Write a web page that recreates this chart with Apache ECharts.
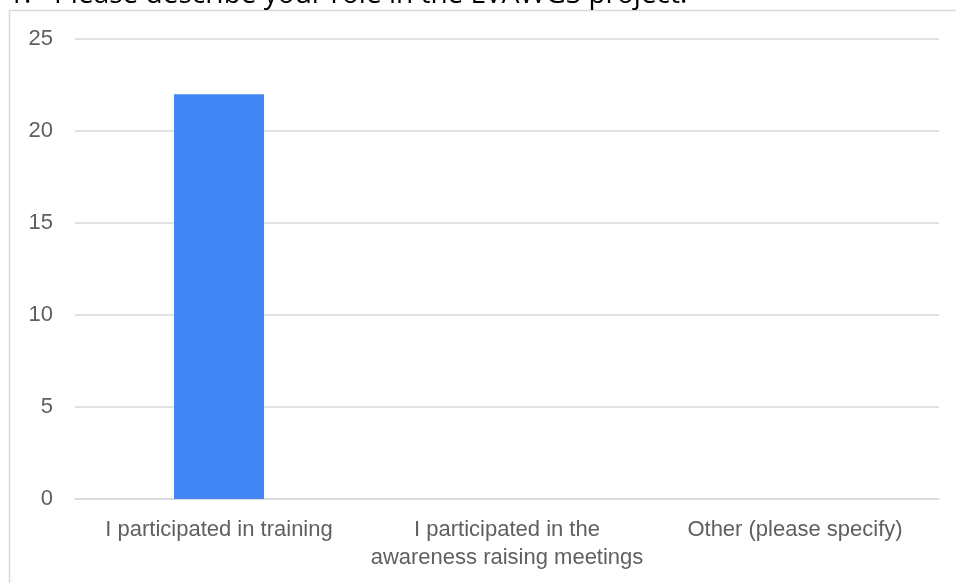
<!DOCTYPE html>
<html><head><meta charset="utf-8">
<script src="https://cdn.jsdelivr.net/npm/echarts@6/dist/echarts.min.js"></script>
<style>html,body{margin:0;padding:0;background:#fff}#c{width:956px;height:583px}</style>
</head><body><div id="c"></div>
<script>
const titleNumber = "1.";
const titleText = "Please describe your role in the LVAWGS project.";
const categories = ["I participated in training", "I participated in the\nawareness raising meetings", "Other (please specify)"];
const values = [22, 0, 0];
const yTicks = [0, 5, 10, 15, 20, 25];

const labelFont = '"Liberation Sans", Arial, sans-serif';
const chart = echarts.init(document.getElementById('c'));
chart.setOption({
  animation: false,
  graphic: [
    {type: 'rect', shape: {x: 9.5, y: 10.5, width: 1000, height: 1000}, style: {fill: 'none', stroke: '#d9d9d9', lineWidth: 1.5}, z: -1},
    {type: 'text', x: 8, y: 9, style: {text: titleNumber, font: '28px "Open Sans", sans-serif', fill: '#000', verticalAlign: 'bottom'}},
    {type: 'text', x: 54, y: 9, style: {text: titleText, font: '28px "Open Sans", sans-serif', fill: '#000', verticalAlign: 'bottom'}}
  ],
  grid: {left: 75, right: 17, top: 39, bottom: 84},
  xAxis: {
    type: 'category', data: categories,
    axisLine: {lineStyle: {color: '#d9d9d9', width: 1.5}},
    axisTick: {show: false},
    axisLabel: {color: '#5f5f5f', fontSize: 22, fontFamily: labelFont, margin: 17, lineHeight: 28, interval: 0}
  },
  yAxis: {
    type: 'value', min: 0, max: 25, interval: 5,
    axisLine: {show: false}, axisTick: {show: false},
    splitLine: {lineStyle: {color: '#d9d9d9', width: 1.5}},
    axisLabel: {color: '#5f5f5f', fontSize: 22, fontFamily: labelFont, margin: 22}
  },
  series: [{type: 'bar', data: values, barWidth: 90, itemStyle: {color: '#4285f4'}}]
});
</script></body></html>
